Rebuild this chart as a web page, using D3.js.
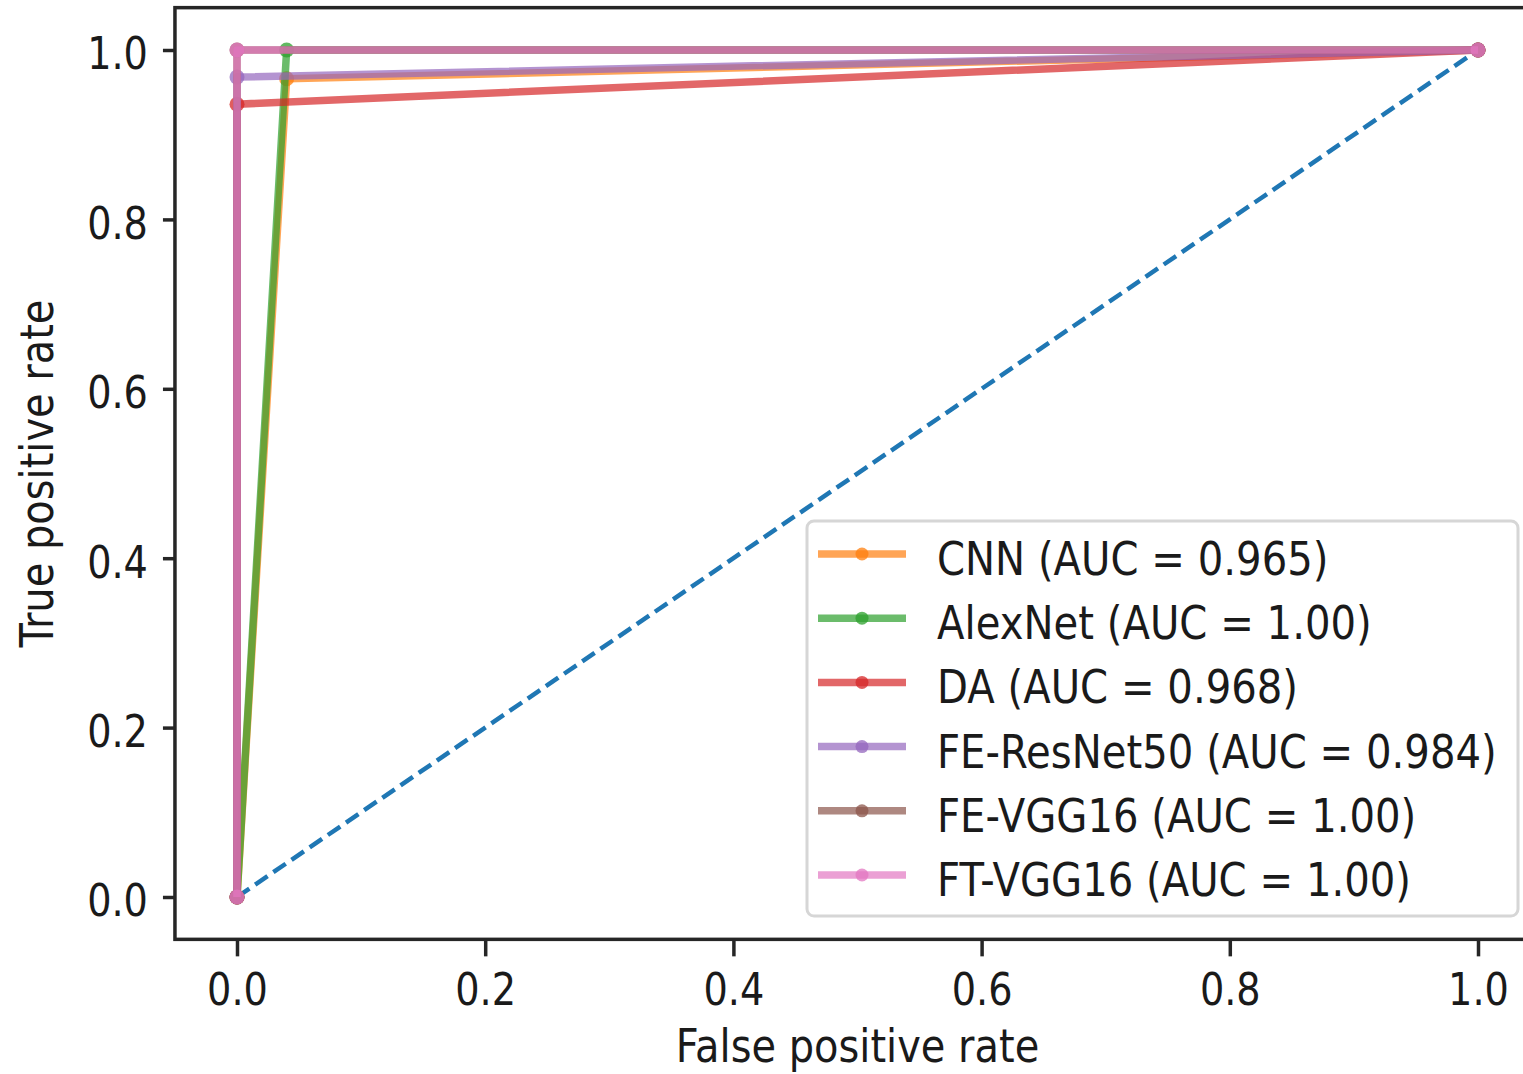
<!DOCTYPE html>
<html>
<head>
<meta charset="utf-8">
<script src="https://cdn.jsdelivr.net/npm/d3@7"></script>
<style>
    body { margin: 0; background: #fff; }
    svg text { font-family: 'DejaVu Sans', sans-serif; fill: #1a1a1a; }
    .narrow-mid { transform: scaleX(0.85); transform-box: fill-box; transform-origin: center; }
    .narrow-end { transform: scaleX(0.85); transform-box: fill-box; transform-origin: right center; }
</style>
</head>
<body>
<svg id="canvas"></svg>
<script>
let width = 1523;
let height = 1074;

// chart values
const models = ['CNN', 'AlexNet', 'DA', 'FE-ResNet50', 'FE-VGG16', 'FT-VGG16'];
const aucLabels = ['0.965', '1.00', '0.968', '0.984', '1.00', '1.00'];
const fprValues = [
    [0, 0.04, 1],
    [0, 0.04, 1],
    [0, 0, 1],
    [0, 0, 1],
    [0, 0, 1],
    [0, 0, 1],
];
const tprValues = [
    [0, 0.966, 1],
    [0, 1, 1],
    [0, 0.936, 1],
    [0, 0.968, 1],
    [0, 1, 1],
    [0, 1, 1],
];
const chanceLine = [0, 1];
const xTicks = [0, 0.2, 0.4, 0.6, 0.8, 1.0];
const yTicks = [0, 0.2, 0.4, 0.6, 0.8, 1.0];

const lineColors = ['#ff7f0e', '#2ca02c', '#d62728', '#9467bd', '#8c564b', '#e377c2'];

let canvas = d3.select('#canvas').attr('width', width).attr('height', height);

let xScale = d3.scaleLinear().domain([0, 1]).range([237, 1478]);
let yScale = d3.scaleLinear().domain([0, 1]).range([897, 50]);

let plotLeft = xScale(-0.05);
let plotRight = xScale(1.05);
let plotTop = yScale(1.05);
let plotBottom = yScale(-0.05);

let drawAxes = () => {
    let xAxis = d3.axisBottom(xScale).tickValues(xTicks).tickFormat(d3.format('.1f'))
        .tickSize(17).tickPadding(17);
    let yAxis = d3.axisLeft(yScale).tickValues(yTicks).tickFormat(d3.format('.1f'))
        .tickSize(12).tickPadding(15);

    let gx = canvas.append('g')
        .attr('id', 'x-axis')
        .attr('transform', `translate(0, ${plotBottom})`)
        .call(xAxis);
    gx.select('.domain').remove();
    gx.selectAll('line').attr('stroke', '#262626').attr('stroke-width', 3.5);
    gx.selectAll('text')
        .attr('class', 'narrow-mid')
        .style('font-size', '45px')
        .attr('fill', '#1a1a1a');

    let gy = canvas.append('g')
        .attr('id', 'y-axis')
        .attr('transform', `translate(${plotLeft}, 0)`)
        .call(yAxis);
    gy.select('.domain').remove();
    gy.selectAll('line').attr('stroke', '#262626').attr('stroke-width', 3.5);
    gy.selectAll('text')
        .attr('class', 'narrow-end')
        .attr('dy', '0.42em')
        .style('font-size', '45px')
        .attr('fill', '#1a1a1a');

    canvas.append('text')
        .attr('class', 'narrow-mid')
        .attr('x', (plotLeft + plotRight) / 2)
        .attr('y', 1062)
        .attr('text-anchor', 'middle')
        .style('font-size', '47px')
        .text('False positive rate');

    canvas.append('g')
        .attr('transform', `translate(53, ${(plotTop + plotBottom) / 2}) rotate(-90)`)
        .append('text')
        .attr('class', 'narrow-mid')
        .attr('text-anchor', 'middle')
        .style('font-size', '47px')
        .text('True positive rate');
};

let drawLines = () => {
    let line = d3.line().x((d) => xScale(d[0])).y((d) => yScale(d[1]));

    canvas.append('path')
        .attr('d', line(chanceLine.map((v) => [v, v])))
        .attr('fill', 'none')
        .attr('stroke', '#1f77b4')
        .attr('stroke-width', 4.5)
        .attr('stroke-dasharray', '15,7');

    models.forEach((m, i) => {
        let pts = fprValues[i].map((f, j) => [f, tprValues[i][j]]);
        let g = canvas.append('g').attr('class', 'roc');
        g.append('path')
            .attr('d', line(pts))
            .attr('fill', 'none')
            .attr('stroke', lineColors[i])
            .attr('stroke-opacity', 0.7)
            .attr('stroke-width', 7.5)
            .attr('stroke-linejoin', 'round');
        g.selectAll('circle')
            .data(pts)
            .enter()
            .append('circle')
            .attr('cx', (d) => xScale(d[0]))
            .attr('cy', (d) => yScale(d[1]))
            .attr('r', 7.5)
            .attr('fill', lineColors[i])
            .attr('fill-opacity', 0.75);
    });
};

let drawFrame = () => {
    canvas.append('rect')
        .attr('x', plotLeft)
        .attr('y', plotTop)
        .attr('width', plotRight - plotLeft)
        .attr('height', plotBottom - plotTop)
        .attr('fill', 'none')
        .attr('stroke', '#262626')
        .attr('stroke-width', 3.5);
};

let drawLegend = () => {
    let legend = canvas.append('g').attr('id', 'legend');
    legend.append('rect')
        .attr('x', 807)
        .attr('y', 521)
        .attr('width', 711)
        .attr('height', 395)
        .attr('rx', 7)
        .attr('fill', 'white')
        .attr('fill-opacity', 0.8)
        .attr('stroke', '#d6d6d6')
        .attr('stroke-width', 3);

    models.forEach((m, i) => {
        let base = 575 + i * 64.2;
        let cy = base - 21;
        legend.append('line')
            .attr('x1', 818)
            .attr('x2', 906)
            .attr('y1', cy)
            .attr('y2', cy)
            .attr('stroke', lineColors[i])
            .attr('stroke-opacity', 0.7)
            .attr('stroke-width', 7.5);
        legend.append('circle')
            .attr('cx', 862)
            .attr('cy', cy)
            .attr('r', 6.5)
            .attr('fill', lineColors[i])
            .attr('fill-opacity', 0.75);
        legend.append('g')
            .attr('transform', `translate(937, ${base}) scale(0.855, 1)`)
            .append('text')
            .style('font-size', '47px')
            .text(`${m} (AUC = ${aucLabels[i]})`);
    });
};

drawLines();
drawFrame();
drawAxes();
drawLegend();
</script>
</body>
</html>
